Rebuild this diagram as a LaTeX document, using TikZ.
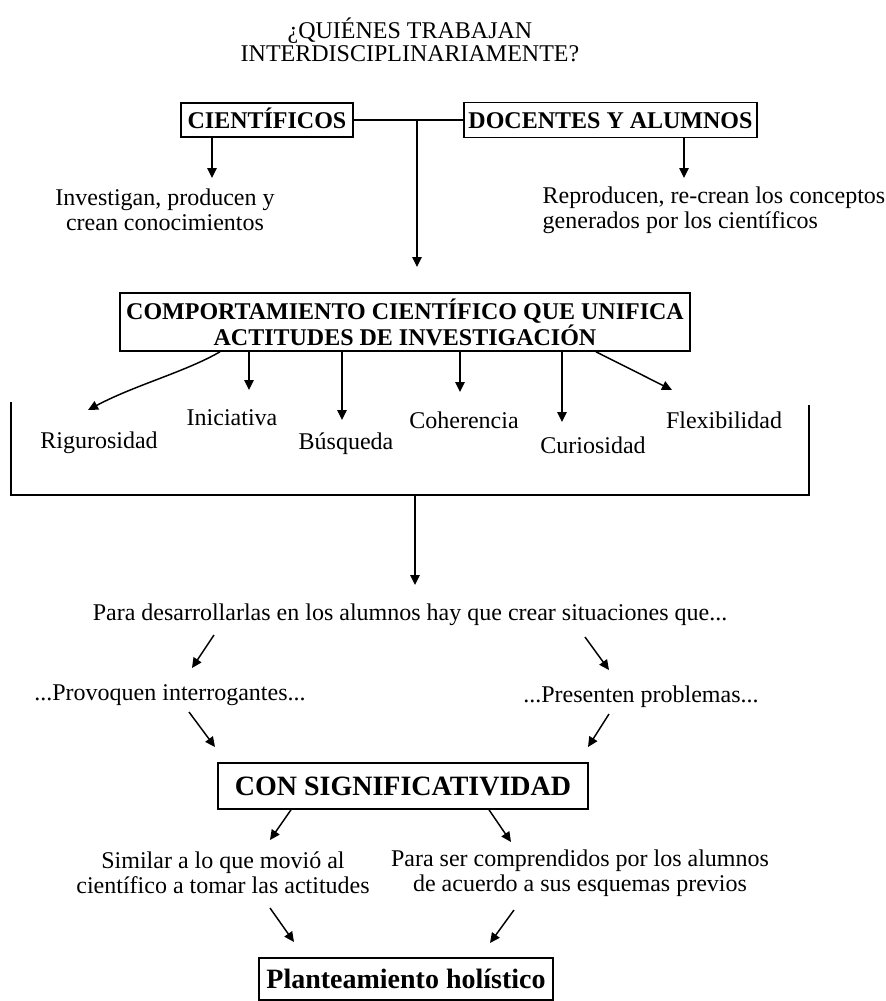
\documentclass[tikz,border=0pt]{standalone}
\usepackage{fontspec}
\setmainfont{Liberation Serif}
\usetikzlibrary{arrows.meta}
\begin{document}
\begin{tikzpicture}[x=0.75pt,y=-0.75pt,
  line width=1.1pt,
  arr/.style={-{Triangle[length=7.5pt,width=7pt]}},
  boxnode/.style={draw,line width=1.2pt,inner sep=0pt,align=center,
    font=\bfseries\fontsize{18}{17.25}\selectfont},
  onebox/.style={boxnode,text height=12.5pt,text depth=0pt},
  bigbox/.style={boxnode,font=\bfseries\fontsize{21}{22}\selectfont,
    text height=14.5pt,text depth=0pt},
  txt/.style={inner sep=0pt,align=center,font=\fontsize{18}{18.75}\selectfont},
  lbl/.style={inner sep=0pt,font=\fontsize{18}{18.75}\selectfont}]
\useasboundingbox (0,0) rectangle (886,1001);

% heading
\node[txt,font=\fontsize{18}{17.25}\selectfont] (title) at (410,40)
  {¿QUIÉNES TRABAJAN\\INTERDISCIPLINARIAMENTE?};

% who works
\node[onebox,minimum width=129pt,minimum height=25.5pt] (cien) at (267,120) {CIENTÍFICOS};
\node[onebox,minimum width=219.75pt,minimum height=26.25pt] (doc) at (610.5,120) {DOCENTES Y ALUMNOS};
\draw (cien.east) -- (doc.west);

\coordinate (j) at (417,120);
\coordinate (jt) at (417,267);
\draw[arr] (j) -- (jt);

\coordinate (c1) at (212,178);
\coordinate (d1) at (684,178);
\draw[arr] (cien.south -| c1) -- (c1);
\draw[arr] (doc.south -| d1) -- (d1);

\node[txt] (inv) at (165,210) {Investigan, producen y\\crean conocimientos};
\node[txt,align=left,anchor=west] (rep) at (542,210)
  {Reproducen, re-crean los conceptos\\generados por los científicos};

% unifying behaviour
\node[boxnode,minimum width=427.5pt,minimum height=43.5pt] (comp) at (405,322)
  {COMPORTAMIENTO CIENTÍFICO QUE UNIFICA\\ACTITUDES DE INVESTIGACIÓN};

\coordinate (r1) at (88,410);
\coordinate (i1) at (249,390);
\coordinate (b1) at (342,420);
\coordinate (h1) at (460,392);
\coordinate (u1) at (562,422);
\coordinate (f1) at (672,390);

\draw[arr] ([xshift=-138.75pt]comp.south) .. controls (185,372) and (135,385) .. (r1);
\draw[arr] (comp.south -| i1) -- (i1);
\draw[arr] (comp.south -| b1) -- (b1);
\draw[arr] (comp.south -| h1) -- (h1);
\draw[arr] (comp.south -| u1) -- (u1);
\draw[arr] ([xshift=143.25pt]comp.south) -- (f1);

\node[lbl] (rig) at (99,443) {Rigurosidad};
\node[lbl] (ini) at (232,418) {Iniciativa};
\node[lbl] (bus) at (346,444) {Búsqueda};
\node[lbl] (coh) at (464,420) {Coherencia};
\node[lbl] (cur) at (593,445) {Curiosidad};
\node[lbl] (fle) at (724,420) {Flexibilidad};

% bracket gathering the attitudes
\coordinate (bl) at (11,402);
\coordinate (bb1) at (11,495);
\coordinate (bb2) at (809,495);
\coordinate (br) at (809,405);
\draw (bl) -- (bb1) -- (bb2) -- (br);
\coordinate (bm) at (415,495);
\coordinate (bmt) at (415,585);
\draw[arr] (bm) -- (bmt);

% situations
\node[lbl] (para) at (410,615) {Para desarrollarlas en los alumnos hay que crear situaciones que...};

\coordinate (p1s) at (214,635); \coordinate (p1e) at (192,668);
\coordinate (p2s) at (585,637); \coordinate (p2e) at (609,670);
\draw[arr] (p1s) -- (p1e);
\draw[arr] (p2s) -- (p2e);

\node[lbl] (prov) at (170,695) {...Provoquen interrogantes...};
\node[lbl] (pres) at (641,697) {...Presenten problemas...};

\coordinate (q1s) at (189,712); \coordinate (q1e) at (215,747);
\coordinate (q2s) at (609,714); \coordinate (q2e) at (588,747);
\draw[arr] (q1s) -- (q1e);
\draw[arr] (q2s) -- (q2e);

\node[bigbox,minimum width=277.5pt,minimum height=34.5pt] (sig) at (403,786) {CON SIGNIFICATIVIDAD};

\coordinate (s1e) at (270,840);
\coordinate (s2e) at (511,842);
\draw[arr] ([xshift=-84pt]sig.south) -- (s1e);
\draw[arr] ([xshift=64.5pt]sig.south) -- (s2e);

\node[txt] (sim) at (223,873) {Similar a lo que movió al\\científico a tomar las actitudes};
\node[txt] (com) at (580,873) {Para ser comprendidos por los alumnos\\de acuerdo a sus esquemas previos};

\coordinate (t1s) at (270,908); \coordinate (t1e) at (294,942);
\coordinate (t2s) at (514,910); \coordinate (t2e) at (490,943);
\draw[arr] (t1s) -- (t1e);
\draw[arr] (t2s) -- (t2e);

\node[bigbox,minimum width=220.5pt,minimum height=31.5pt] (plan) at (406,979) {Planteamiento holístico};
\end{tikzpicture}
\end{document}
